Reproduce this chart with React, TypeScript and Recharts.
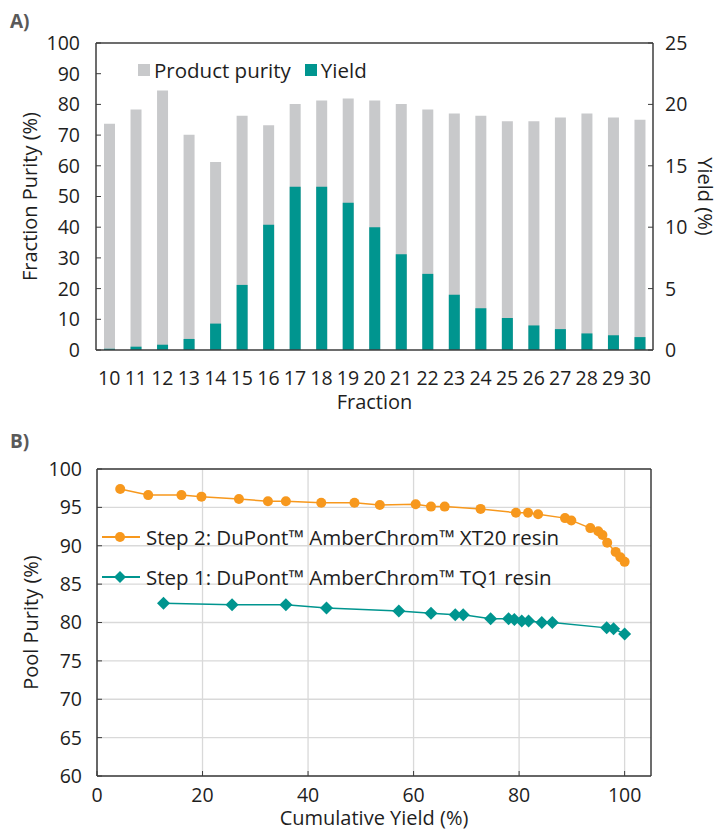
import {
  Bar,
  BarChart,
  CartesianGrid,
  Label,
  Legend,
  Line,
  LineChart,
  ReferenceLine,
  XAxis,
  YAxis,
} from "recharts";

const FONT = '"Open Sans", sans-serif';
const INK = "#1e1e1e";
const AXIS = "#3c3c3c";
const GREY = "#c8c9cb";
const TEAL = "#00958f";
const ORANGE = "#f7981d";

// panel A
const fractions = ["10", "11", "12", "13", "14", "15", "16", "17", "18", "19", "20", "21", "22", "23", "24", "25", "26", "27", "28", "29", "30"];
const purity = [73.7, 78.3, 84.5, 70.1, 61.2, 76.3, 73.2, 80.1, 81.3, 81.9, 81.3, 80.1, 78.3, 77.0, 76.3, 74.5, 74.5, 75.7, 77.0, 75.7, 75.0];
const yieldPct = [0.1, 0.27, 0.43, 0.9, 2.15, 5.3, 10.2, 13.3, 13.3, 12.0, 10.0, 7.8, 6.2, 4.5, 3.4, 2.6, 2.0, 1.7, 1.35, 1.2, 1.05];
const purityTicks = [0, 10, 20, 30, 40, 50, 60, 70, 80, 90, 100];
const yieldTicks = [0, 5, 10, 15, 20, 25];

// panel B
const step2Yield = [4.4, 9.7, 16.0, 19.8, 26.9, 32.4, 35.8, 42.5, 48.8, 53.6, 60.4, 63.3, 65.9, 72.7, 79.4, 81.7, 83.6, 88.7, 89.9, 93.5, 95.0, 95.8, 96.7, 98.3, 99.2, 100];
const step2Purity = [97.4, 96.6, 96.6, 96.4, 96.1, 95.8, 95.8, 95.6, 95.6, 95.3, 95.4, 95.1, 95.1, 94.8, 94.3, 94.3, 94.1, 93.6, 93.3, 92.3, 91.9, 91.4, 90.4, 89.2, 88.5, 87.9];
const step1Yield = [12.6, 25.6, 35.8, 43.5, 57.2, 63.3, 67.9, 69.4, 74.6, 78.0, 79.1, 80.5, 81.8, 84.3, 86.3, 96.6, 97.9, 100];
const step1Purity = [82.5, 82.3, 82.3, 81.9, 81.5, 81.2, 81.0, 81.0, 80.5, 80.5, 80.4, 80.2, 80.2, 80.0, 80.0, 79.3, 79.2, 78.5];
const cumTicks = [0, 20, 40, 60, 80, 100];
const poolTicks = [60, 65, 70, 75, 80, 85, 90, 95, 100];

const STEP2 = "Step 2: DuPont\u2122 AmberChrom\u2122 XT20 resin";
const STEP1 = "Step 1: DuPont\u2122 AmberChrom\u2122 TQ1 resin";

const fractionRows = fractions.map((f, i) => ({ fraction: f, purity: purity[i], yield: yieldPct[i] }));
const step2Rows = step2Yield.map((x, i) => ({ x, y: step2Purity[i] }));
const step1Rows = step1Yield.map((x, i) => ({ x, y: step1Purity[i] }));

const tickStyle = { fontSize: 19.5, fill: INK, fontFamily: FONT };
const titleStyle = { fontSize: 20, fill: INK, fontFamily: FONT };

function Dot(props: any) {
  const { cx, cy, index } = props;
  return <circle key={"o" + index} cx={cx} cy={cy} r={5} fill={ORANGE} />;
}

function Diamond(props: any) {
  const { cx, cy, index } = props;
  const s = 6.5;
  return (
    <path
      key={"d" + index}
      d={`M${cx},${cy - s}L${cx + s},${cy}L${cx},${cy + s}L${cx - s},${cy}Z`}
      fill={TEAL}
    />
  );
}

function BarLegend() {
  const item = (color: string, text: string) => (
    <span style={{ display: "inline-flex", alignItems: "center", marginRight: 14 }}>
      <span style={{ width: 12, height: 12, background: color, display: "inline-block", marginRight: 4 }} />
      {text}
    </span>
  );
  return (
    <div style={{ fontFamily: FONT, fontSize: 20.5, color: INK, whiteSpace: "nowrap" }}>
      {item(GREY, "Product purity")}
      {item(TEAL, "Yield")}
    </div>
  );
}

function LineLegend() {
  const row = (color: string, text: string, diamond: boolean) => (
    <div style={{ display: "flex", alignItems: "center", height: 40 }}>
      <svg width={40} height={16} style={{ marginRight: 4 }}>
        <line x1={0} y1={8} x2={38} y2={8} stroke={color} strokeWidth={2} />
        {diamond ? (
          <path d="M18,2L24,8L18,14L12,8Z" fill={color} />
        ) : (
          <circle cx={18} cy={8} r={5} fill={color} />
        )}
      </svg>
      {text}
    </div>
  );
  return (
    <div style={{ fontFamily: FONT, fontSize: 20.5, color: INK, whiteSpace: "nowrap" }}>
      {row(ORANGE, STEP2, false)}
      {row(TEAL, STEP1, true)}
    </div>
  );
}

const panelLabel = {
  position: "absolute" as const,
  left: 10,
  fontFamily: FONT,
  fontWeight: 700,
  fontSize: 19,
  color: "#595959",
};

export default function App() {
  return (
    <div style={{ position: "absolute", left: 0, top: 0, width: 720, height: 831, background: "#fff" }}>
      <div style={{ ...panelLabel, top: 8 }}>A)</div>
      <div style={{ ...panelLabel, top: 428 }}>B)</div>

      <div style={{ position: "absolute", left: 0, top: 0 }}>
        <BarChart
          width={720}
          height={420}
          data={fractionRows}
          margin={{ top: 43, right: 17, bottom: 40, left: 30 }}
          barSize={11}
          barGap={-11}
          barCategoryGap={0}
        >
          <XAxis
            dataKey="fraction"
            interval={0}
            tickLine={false}
            tickSize={0}
            tickMargin={21}
            height={30}
            tick={tickStyle}
            axisLine={{ stroke: AXIS, strokeWidth: 1.5 }}
          >
            <Label value="Fraction" position="bottom" offset={15} style={titleStyle} />
          </XAxis>
          <YAxis
            yAxisId="left"
            domain={[0, 100]}
            ticks={purityTicks}
            interval={0}
            width={66}
            tickSize={-5}
            tickMargin={21}
            tick={tickStyle}
            tickLine={{ stroke: AXIS }}
            axisLine={{ stroke: AXIS, strokeWidth: 1.5 }}
          >
            <Label value="Fraction Purity (%)" position="center" angle={-90} dx={-33} style={{ ...titleStyle, textAnchor: "middle" }} />
          </YAxis>
          <YAxis
            yAxisId="right"
            orientation="right"
            domain={[0, 25]}
            ticks={yieldTicks}
            interval={0}
            width={50}
            tickSize={-5}
            tickMargin={17}
            tick={tickStyle}
            tickLine={{ stroke: AXIS }}
            axisLine={{ stroke: AXIS, strokeWidth: 1.5 }}
          >
            <Label value="Yield (%)" position="center" angle={90} dx={27} style={{ ...titleStyle, textAnchor: "middle" }} />
          </YAxis>
          <ReferenceLine yAxisId="left" y={100} stroke={AXIS} strokeWidth={1.5} />
          <Bar yAxisId="left" dataKey="purity" name="Product purity" fill={GREY} isAnimationActive={false} />
          <Bar yAxisId="right" dataKey="yield" name="Yield" fill={TEAL} isAnimationActive={false} />
          <Legend
            layout="horizontal"
            verticalAlign="middle"
            align="center"
            content={<BarLegend />}
            wrapperStyle={{ left: 138, top: 54, width: "auto" }}
          />
        </BarChart>
      </div>

      <div style={{ position: "absolute", left: 0, top: 420 }}>
        <LineChart width={720} height={411} margin={{ top: 49, right: 69, bottom: 25, left: 30 }}>
          <CartesianGrid stroke="#d9d9d9" strokeWidth={1.3} horizontalValues={poolTicks} verticalValues={cumTicks} />
          <XAxis
            type="number"
            dataKey="x"
            domain={[0, 105]}
            ticks={cumTicks}
            interval={0}
            height={30}
            tickSize={-5}
            tickMargin={17}
            tick={tickStyle}
            tickLine={{ stroke: AXIS }}
            axisLine={{ stroke: AXIS, strokeWidth: 1.5 }}
          >
            <Label value="Cumulative Yield (%)" position="bottom" offset={5} style={titleStyle} />
          </XAxis>
          <YAxis
            type="number"
            domain={[60, 100]}
            ticks={poolTicks}
            interval={0}
            width={67}
            tickSize={-5}
            tickMargin={20}
            tick={tickStyle}
            tickLine={{ stroke: AXIS }}
            axisLine={{ stroke: AXIS, strokeWidth: 1.5 }}
          >
            <Label value="Pool Purity (%)" position="center" angle={-90} dx={-33} style={{ ...titleStyle, textAnchor: "middle" }} />
          </YAxis>
          <ReferenceLine y={100} stroke={AXIS} strokeWidth={1.5} />
          <ReferenceLine x={105} stroke={AXIS} strokeWidth={1.5} />
          <Line
            data={step1Rows}
            dataKey="y"
            name={STEP1}
            stroke={TEAL}
            strokeWidth={1.5}
            dot={Diamond}
            activeDot={false}
            isAnimationActive={false}
          />
          <Line
            data={step2Rows}
            dataKey="y"
            name={STEP2}
            stroke={ORANGE}
            strokeWidth={1.5}
            dot={Dot}
            activeDot={false}
            isAnimationActive={false}
          />
          <Legend
            layout="horizontal"
            verticalAlign="middle"
            align="center"
            content={<LineLegend />}
            wrapperStyle={{ left: 102, top: 97, width: "auto" }}
          />
        </LineChart>
      </div>
    </div>
  );
}
